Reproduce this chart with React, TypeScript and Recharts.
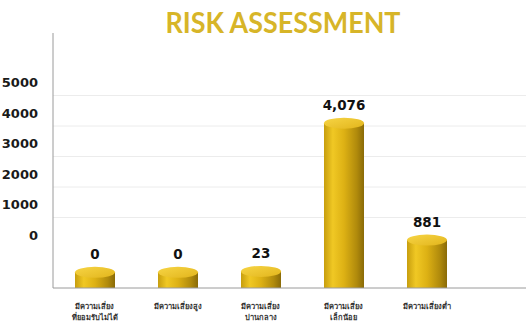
import React from "react";
import { BarChart, Bar, XAxis, YAxis, CartesianGrid, LabelList } from "recharts";

const categories = [
  ["มีความเสี่ยง", "ที่ยอมรับไม่ได้"],
  ["มีความเสี่ยงสูง"],
  ["มีความเสี่ยง", "ปานกลาง"],
  ["มีความเสี่ยง", "เล็กน้อย"],
  ["มีความเสี่ยงต่ำ"],
];
const riskCounts = [0, 0, 23, 4076, 881];
const yTicks = [0, 1000, 2000, 3000, 4000, 5000];
const gridValues = [1000, 2000, 3000, 4000, 5000];

// bars stand on a floor below zero, so an empty class still shows a short cylinder
const barFloor = -430;
const barDomain = [barFloor, 6540];
const labelDomain = [-1311, 7049];

const data = categories.map((lines, i) => ({
  name: lines.join(" "),
  count: riskCounts[i],
}));

const GOLD = "#D7B528";

function Cylinder(props: any) {
  const { x, y, width, height } = props;
  if (width == null || height == null || isNaN(y)) return null;
  const rx = width / 2;
  const ry = 5.5;
  const bottom = y + height;
  const d = `M${x},${y} L${x},${bottom} A${rx},${ry} 0 0 0 ${x + width},${bottom} L${x + width},${y} Z`;
  return (
    <g>
      <path d={d} fill="url(#cylSide)" />
      <ellipse cx={x + rx} cy={y} rx={rx} ry={ry} fill="url(#cylTop)" />
    </g>
  );
}

function ValueLabel(props: any) {
  const vb = props.viewBox || {};
  const x = props.x ?? vb.x;
  const y = props.y ?? vb.y;
  const width = props.width ?? vb.width;
  return (
    <text
      x={x + width / 2}
      y={y - 13}
      textAnchor="middle"
      fontFamily="'DejaVu Sans', sans-serif"
      fontWeight="bold"
      fontSize={13.5}
      fill="#111"
    >
      {Number(props.value).toLocaleString("en-US")}
    </text>
  );
}

function CategoryTick(props: any) {
  const { x, y, index } = props;
  const lines = categories[index] || [];
  return (
    <text
      x={x}
      y={y}
      textAnchor="middle"
      fontFamily="'Noto Sans', 'DejaVu Sans', sans-serif"
      fontSize={7.5}
      fontWeight={600}
      fill="#333"
    >
      {lines.map((l, i) => (
        <tspan key={i} x={x} dy={i === 0 ? 13 : 10.5}>
          {l}
        </tspan>
      ))}
    </text>
  );
}

function CountTick(props: any) {
  const { x, y, payload } = props;
  return (
    <text
      x={x - 7}
      y={y - 13}
      dy={4.5}
      textAnchor="end"
      fontFamily="'DejaVu Sans', sans-serif"
      fontWeight="bold"
      fontSize={13}
      fill="#1a1a1a"
    >
      {payload.value}
    </text>
  );
}

export default function App() {
  return (
    <div
      style={{
        position: "absolute",
        left: 0,
        top: 0,
        width: 526,
        height: 321,
        background: "#fff",
      }}
    >
      <svg
        width={526}
        height={45}
        style={{ position: "absolute", left: 0, top: 0 }}
      >
        <text
          x={283}
          y={33}
          textAnchor="middle"
          textLength={235}
          lengthAdjust="spacingAndGlyphs"
          fontFamily="'Lato', 'DejaVu Sans', sans-serif"
          fontWeight="bold"
          fontSize={28}
          fill={GOLD}
        >
          RISK ASSESSMENT
        </text>
      </svg>
      <BarChart
        width={526}
        height={321}
        data={data}
        margin={{ top: 33, right: 0, bottom: 0, left: 0 }}
      >
        <defs>
          <linearGradient id="cylSide" x1="0" y1="0" x2="1" y2="0">
            <stop offset="0%" stopColor="#C79E0E" />
            <stop offset="22%" stopColor="#F0C824" />
            <stop offset="50%" stopColor="#DDB114" />
            <stop offset="82%" stopColor="#B08A0C" />
            <stop offset="100%" stopColor="#8A6B08" />
          </linearGradient>
          <linearGradient id="cylTop" x1="0" y1="0" x2="1" y2="1">
            <stop offset="0%" stopColor="#F7D545" />
            <stop offset="100%" stopColor="#E2B51C" />
          </linearGradient>
        </defs>
        <CartesianGrid
          yAxisId="ref"
          vertical={false}
          horizontalValues={gridValues}
          stroke="#ECECEC"
        />
        <XAxis
          dataKey="name"
          interval={0}
          height={33}
          padding={{ left: 0, right: 58 }}
          axisLine={{ stroke: "#9a9a9a" }}
          tickLine={false}
          tick={<CategoryTick />}
        />
        <YAxis
          yAxisId="bar"
          type="number"
          width={0}
          hide
          domain={barDomain}
          allowDataOverflow
        />
        <YAxis
          yAxisId="ref"
          type="number"
          width={53}
          domain={labelDomain}
          ticks={yTicks}
          interval={0}
          allowDataOverflow
          axisLine
          stroke="#9a9a9a"
          tickLine={false}
          tick={<CountTick />}
        />
        <Bar
          yAxisId="bar"
          dataKey={(d: any) => [barFloor, d.count]}
          barSize={40}
          shape={<Cylinder />}
          isAnimationActive={false}
        >
          <LabelList dataKey="count" content={<ValueLabel />} />
        </Bar>
      </BarChart>
    </div>
  );
}
